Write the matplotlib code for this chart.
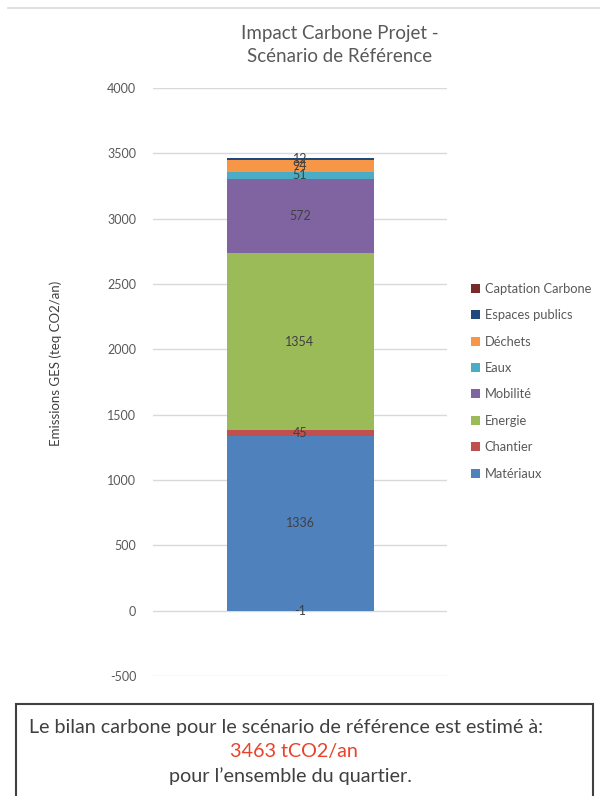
import matplotlib
matplotlib.use("Agg")
import matplotlib.pyplot as plt
from matplotlib.patches import Patch, Rectangle
from matplotlib.lines import Line2D
import numpy as np

plt.rcParams['font.family'] = ['Lato', 'DejaVu Sans']

categories = ["Matériaux", "Chantier", "Energie", "Mobilité", "Eaux", "Déchets",
              "Espaces publics", "Captation Carbone"]
values = [1336, 45, 1354, 572, 51, 94, 12, -1]
colors = ["#4F81BD", "#C0504D", "#9BBB59", "#8064A2", "#4BACC6", "#F79646",
          "#1F497D", "#772C2A"]
yticks = [-500, 0, 500, 1000, 1500, 2000, 2500, 3000, 3500, 4000]
total = sum(values)

W, H = 600, 796
fig = plt.figure(figsize=(W / 100, H / 100), dpi=100)
fig.patch.set_facecolor("white")

ax = fig.add_axes([153 / W, 1 - 676 / H, 294 / W, (676 - 88) / H])
ax.set_xlim(-1, 1)
ax.set_ylim(-500, 4000)
ax.set_yticks(yticks)
ax.set_yticklabels([str(t) for t in yticks], color="#595959", fontsize=9)
ax.tick_params(axis="y", length=0, pad=12)
ax.set_xticks([])
for s in ax.spines.values():
    s.set_visible(False)
ax.grid(axis="y", color="#D9D9D9", linewidth=1)
ax.set_axisbelow(True)

pos_bottom = 0.0
neg_bottom = 0.0
for cat, v, c in zip(categories, values, colors):
    if v >= 0:
        b = pos_bottom
        pos_bottom += v
    else:
        b = neg_bottom
        neg_bottom += v
    ax.bar(0, v, width=1.0, bottom=b, color=c, edgecolor="none", zorder=2)
    ax.text(0, b + v / 2, str(v), ha="center", va="center", fontsize=9,
            color="#404040", zorder=3)

ax.set_ylabel("Emissions GES (teq CO2/an)", fontsize=9.5, color="#404040")
ax.yaxis.set_label_coords(-(153 - 62) / 294, (676 - 363) / (676 - 88))

fig.text(340 / W, 1 - 33 / H, "Impact Carbone Projet -", ha="center", va="center",
         fontsize=13.5, color="#595959")
fig.text(340 / W, 1 - 56 / H, "Scénario de Référence", ha="center", va="center",
         fontsize=13.5, color="#595959")

handles = [Patch(facecolor=c, edgecolor="none") for c in colors][::-1]
labels = categories[::-1]
leg = fig.legend(handles, labels, loc="upper left",
                 bbox_to_anchor=(459 / W, 1 - 271 / H), frameon=False,
                 fontsize=9.3, labelcolor="#595959", handlelength=0.7,
                 handleheight=0.7, handletextpad=0.4, labelspacing=1.12)

# top frame line
fig.add_artist(Line2D([8 / W, 1.0], [1 - 8 / H, 1 - 8 / H], color="#D9D9D9",
                      linewidth=1.2, transform=fig.transFigure))

# bottom text box
fig.add_artist(Rectangle((16 / W, -0.05), (593 - 16) / W, 0.05 + (1 - 704 / H),
                         transform=fig.transFigure, facecolor="white",
                         edgecolor="#404040", linewidth=1.5))
fig.text(286 / W, 1 - 728 / H,
         "Le bilan carbone pour le scénario de référence est estimé à:",
         ha="center", va="center", fontsize=14.2, color="#404040")
fig.text(294 / W, 1 - 752 / H, f"{total} tCO2/an", ha="center", va="center",
         fontsize=14.2, color="#E8432B")
fig.text(290 / W, 1 - 776 / H, "pour l’ensemble du quartier.", ha="center",
         va="center", fontsize=14.2, color="#404040")

fig.savefig("out.png", dpi=100)
